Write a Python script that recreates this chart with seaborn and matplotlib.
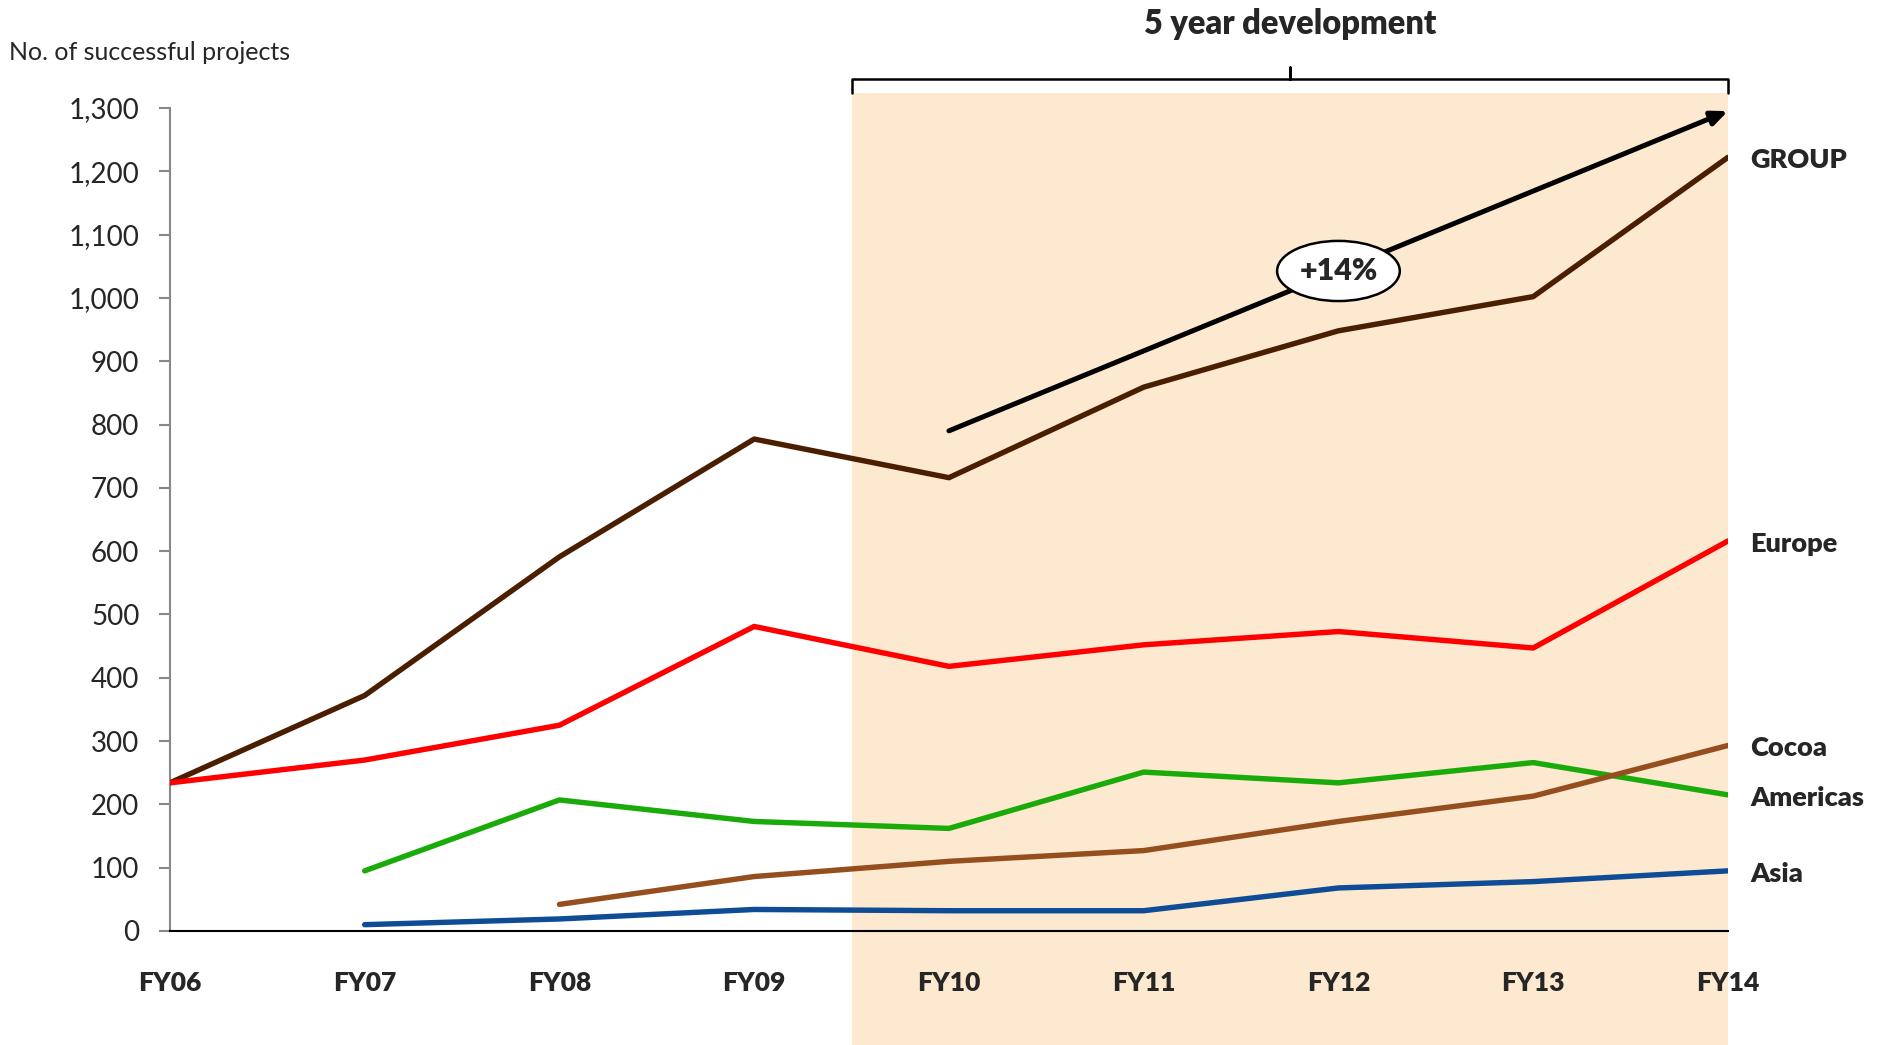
import matplotlib
matplotlib.use("Agg")
import matplotlib.pyplot as plt
import matplotlib.transforms as mtransforms
from matplotlib.patches import Rectangle, Ellipse
import numpy as np
import pandas as pd
import seaborn as sns

# ---- data ----
years = ["FY06", "FY07", "FY08", "FY09", "FY10", "FY11", "FY12", "FY13", "FY14"]
group = [234, 372, 591, 777, 716, 859, 948, 1002, 1222]
europe = [234, 270, 325, 481, 418, 452, 473, 447, 616]
americas = [np.nan, 95, 207, 173, 162, 251, 234, 266, 215]
cocoa = [np.nan, np.nan, 42, 86, 110, 127, 173, 213, 293]
asia = [np.nan, 10, 19, 34, 32, 32, 68, 78, 95]
series_names = ["GROUP", "Europe", "Americas", "Cocoa", "Asia"]
series_colors = ["#4a1e00", "#ff0000", "#1aab0a", "#954f1e", "#0f4c96"]
trend_start = ("FY10", 790)
trend_end = ("FY14", 1295)
trend_label = "+14%"
y_ticks = list(range(0, 1301, 100))

sns.set_theme(style="white")
plt.rcParams["font.family"] = ["Lato", "DejaVu Sans"]

vals = {"GROUP": group, "Europe": europe, "Americas": americas, "Cocoa": cocoa, "Asia": asia}
long = pd.concat(
    [pd.DataFrame({"x": np.arange(len(years)), "value": v, "series": k}) for k, v in vals.items()]
).dropna()

fig = plt.figure(figsize=(18.86, 10.45), dpi=100)
ax = fig.add_axes([0.0901, 0.1091, 0.8261, 0.7876])

# shaded 5-year region
ax.add_patch(Rectangle((3.5, -200), 4.5, 1523, facecolor="#fde9d0", edgecolor="none",
                       zorder=0, clip_on=False))

sns.lineplot(data=long, x="x", y="value", hue="series", hue_order=series_names,
             palette=dict(zip(series_names, series_colors)), linewidth=3.9,
             legend=False, ax=ax, zorder=3)

ax.set_xlim(0, 8)
ax.set_ylim(0, 1300)
ax.set_xticks(np.arange(len(years)))
ax.set_xticklabels(years, fontsize=19, fontweight="heavy")
ax.set_yticks(y_ticks)
ax.set_yticklabels([f"{t:,}" for t in y_ticks], fontsize=20)
ax.tick_params(axis="y", length=8, width=1.5, color="#888888", pad=14, left=True)
ax.tick_params(axis="x", length=0, pad=29)
ax.set_xlabel("")
ax.set_ylabel("")
for s in ["top", "right"]:
    ax.spines[s].set_visible(False)
ax.spines["left"].set_color("#888888")
ax.spines["left"].set_linewidth(1.5)
ax.spines["bottom"].set_color("#000000")
ax.spines["bottom"].set_linewidth(1.5)
ax.spines["bottom"].set_zorder(4)

# series labels at the right end
last_vals = [group[-1], europe[-1], americas[-1], cocoa[-1], asia[-1]]
for name, v in zip(series_names, last_vals):
    ax.annotate(name, xy=(8, v), xytext=(16, -2), textcoords="offset points",
                ha="left", va="center", fontsize=19.5, fontweight="heavy",
                annotation_clip=False)

# trend arrow
xs = years.index(trend_start[0])
xe = years.index(trend_end[0])
ax.annotate("", xy=(xe, trend_end[1]), xytext=(xs, trend_start[1]),
            arrowprops=dict(arrowstyle="-|>,head_length=0.8,head_width=0.35", color="black",
                            lw=3.6, shrinkA=0, shrinkB=0),
            zorder=5, annotation_clip=False)
mx = (xs + xe) / 2
my = trend_start[1] + (trend_end[1] - trend_start[1]) * (mx - xs) / (xe - xs)
ax.add_patch(Ellipse((mx, my), 0.63, 95, facecolor="white", edgecolor="black", lw=1.8, zorder=6))
ax.text(mx, my, trend_label, ha="center", va="center", fontsize=22, fontweight="heavy", zorder=7)

# bracket above the shaded area
bx = [3.5, 3.5, 5.75, 5.75, 5.75, 8.0, 8.0]
by = [1323, 1346, 1346, 1364, 1346, 1346, 1323]
ax.plot(bx, by, color="black", lw=1.8, clip_on=False, solid_joinstyle="round")
trans = mtransforms.blended_transform_factory(ax.transData, fig.transFigure)
ax.text(5.75, 0.977, "5 year development", transform=trans, ha="center", va="center",
        fontsize=23.5, fontweight="heavy")

fig.text(0.005, 0.950, "No. of successful projects", ha="left", va="center", fontsize=18)

fig.savefig("out.png", dpi=100, facecolor="white")
